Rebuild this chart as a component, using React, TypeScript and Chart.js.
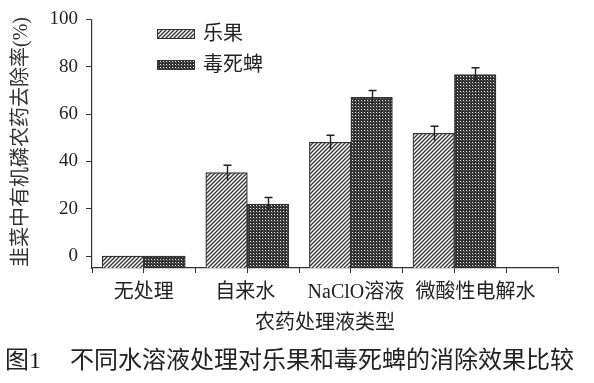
import React, { useEffect, useRef } from 'react';
import { Chart, registerables } from 'chart.js';

Chart.register(...registerables);

// ---- data ----
const categories = ['无处理', '自来水', 'NaClO溶液', '微酸性电解水'];
const categoryPositions = [1, 2, 3, 4];
const seriesNames = ['乐果', '毒死蜱'];
const leguoValues = [0, 35.3, 48.1, 51.9];
const leguoErrors = [0, 3.1, 3.0, 3.0];
const dusiValues = [0, 22.0, 67.1, 76.7];
const dusiErrors = [0, 2.8, 2.9, 2.9];
const yTickValues = [0, 10, 20, 30, 40, 50, 60, 70, 80, 90, 100];
const yLabelStep = 20;
const yTitle = '韭菜中有机磷农药去除率(%)';
const xTitle = '农药处理液类型';
const captionLabel = '图1';
const captionText = '不同水溶液处理对乐果和毒死蜱的消除效果比较';

// label nudges (px) relative to each category's tick, as set in the source figure
const categoryLabelShift = [0, -2, 5, 21];

const FONT = "'Liberation Serif', 'Noto Sans CJK SC', serif";
const INK = '#222';
const LINE = '#333';

function hatchPattern(ctx: CanvasRenderingContext2D) {
  const c = document.createElement('canvas');
  c.width = 4;
  c.height = 4;
  const g = c.getContext('2d')!;
  g.fillStyle = '#fff';
  g.fillRect(0, 0, 4, 4);
  g.strokeStyle = '#383838';
  g.lineWidth = 1.4;
  g.beginPath();
  g.moveTo(-1, 5);
  g.lineTo(5, -1);
  g.moveTo(-1, 1);
  g.lineTo(1, -1);
  g.moveTo(3, 5);
  g.lineTo(5, 3);
  g.stroke();
  return ctx.createPattern(c, 'repeat')!;
}

function dotPattern(ctx: CanvasRenderingContext2D) {
  const c = document.createElement('canvas');
  c.width = 3;
  c.height = 3;
  const g = c.getContext('2d')!;
  g.fillStyle = '#303030';
  g.fillRect(0, 0, 3, 3);
  g.fillStyle = '#eeeeee';
  g.fillRect(1, 1, 1, 1);
  g.fillStyle = '#6a6a6a';
  g.fillRect(2, 2, 1, 1);
  return ctx.createPattern(c, 'repeat')!;
}

export default function App() {
  const ref = useRef<HTMLCanvasElement>(null);

  useEffect(() => {
    const canvas = ref.current!;
    const ctx = canvas.getContext('2d')!;
    const hatch = hatchPattern(ctx);
    const dots = dotPattern(ctx);
    const errorSets = [leguoErrors, dusiErrors];
    const fills = [hatch, dots];

    const annot = {
      id: 'annot',
      afterDatasetsDraw(chart: any) {
        const c = chart.ctx as CanvasRenderingContext2D;
        const ys = chart.scales.y;
        c.save();
        c.strokeStyle = '#222';
        c.lineWidth = 1.4;
        chart.data.datasets.forEach((ds: any, di: number) => {
          const meta = chart.getDatasetMeta(di);
          meta.data.forEach((el: any, i: number) => {
            const err = errorSets[di][i];
            if (!err) return;
            const v = ds.data[i].y;
            const top = ys.getPixelForValue(v + err);
            const bot = ys.getPixelForValue(v - err);
            const x = Math.round(el.x) + 0.5;
            c.beginPath();
            c.moveTo(x, bot);
            c.lineTo(x, top);
            c.moveTo(x - 4, top);
            c.lineTo(x + 4, top);
            c.stroke();
          });
        });
        c.restore();
      },
      afterDraw(chart: any) {
        const c = chart.ctx as CanvasRenderingContext2D;
        const xs = chart.scales.x;
        c.save();
        // category labels
        c.fillStyle = INK;
        c.font = `20px ${FONT}`;
        c.textAlign = 'center';
        c.textBaseline = 'middle';
        categories.forEach((name, i) => {
          const x = xs.getPixelForValue(categoryPositions[i]) + categoryLabelShift[i];
          c.fillText(name, x, xs.top + 25);
        });
        // legend
        const rows = [34, 65];
        seriesNames.forEach((name, i) => {
          const y = rows[i];
          c.fillStyle = fills[i];
          c.fillRect(157, y - 5, 38, 10);
          c.strokeStyle = LINE;
          c.lineWidth = 1;
          c.strokeRect(157.5, y - 4.5, 37, 9);
          c.fillStyle = INK;
          c.font = `20px ${FONT}`;
          c.textAlign = 'left';
          c.textBaseline = 'middle';
          c.fillText(name, 203, y + 1);
        });
        // y title
        c.save();
        c.translate(22, 142);
        c.rotate(-Math.PI / 2);
        c.fillStyle = '#333';
        c.font = `20px ${FONT}`;
        c.textAlign = 'center';
        c.textBaseline = 'middle';
        c.fillText(yTitle, 0, 0);
        c.restore();
        // x title
        c.fillStyle = INK;
        c.font = `20px ${FONT}`;
        c.textAlign = 'center';
        c.textBaseline = 'middle';
        c.fillText(xTitle, 325, 324);
        // caption
        c.font = `24px ${FONT}`;
        c.textAlign = 'left';
        c.fillText(captionLabel, 5, 362);
        c.fillText(captionText, 70, 362);
        c.restore();
      },
    };

    const chart = new Chart(ctx, {
      type: 'bar',
      data: {
        datasets: [
          {
            label: seriesNames[0],
            data: categoryPositions.map((x, i) => ({ x, y: leguoValues[i] })),
            backgroundColor: hatch,
            borderColor: LINE,
            borderWidth: 1.2,
            base: -5,
          } as any,
          {
            label: seriesNames[1],
            data: categoryPositions.map((x, i) => ({ x, y: dusiValues[i] })),
            backgroundColor: dots,
            borderColor: LINE,
            borderWidth: 1.2,
            base: -5,
          } as any,
        ],
      },
      options: {
        animation: false,
        responsive: false,
        devicePixelRatio: 1,
        layout: { padding: { top: 17, right: 36, left: 0, bottom: 0 } },
        datasets: { bar: { barThickness: 41.5 } },
        plugins: {
          legend: { display: false },
          title: { display: false },
          tooltip: { enabled: false },
        },
        scales: {
          x: {
            type: 'linear',
            min: 0.5,
            max: 5,
            offset: false,
            afterFit: (s: any) => {
              s.height = 115;
            },
            ticks: {
              stepSize: 0.5,
              autoSkip: false,
              maxRotation: 0,
              minRotation: 0,
              padding: 8,
              color: INK,
              font: { family: FONT, size: 20 },
              callback: () => '',
            },
            grid: {
              display: true,
              drawOnChartArea: false,
              drawTicks: true,
              tickLength: 5,
              color: LINE,
              lineWidth: 1,
              offset: false,
            },
            border: { display: true, color: LINE, width: 1.2 },
          },
          y: {
            type: 'linear',
            min: -5,
            max: 100,
            afterBuildTicks: (s: any) => {
              s.ticks = yTickValues.map((v) => ({ value: v }));
            },
            afterFit: (s: any) => {
              s.width = 92;
            },
            ticks: {
              padding: 8,
              color: INK,
              font: { family: FONT, size: 19 },
              callback: (v: any) => (Number(v) % yLabelStep === 0 ? String(v) : ''),
            },
            grid: {
              display: true,
              drawOnChartArea: false,
              drawTicks: true,
              tickLength: 6,
              color: LINE,
              lineWidth: 1,
            },
            border: { display: true, color: LINE, width: 1.2 },
          },
        },
      } as any,
      plugins: [annot],
    });
    return () => chart.destroy();
  }, []);

  return (
    <div style={{ position: 'absolute', left: 0, top: 0, width: 594, height: 383, background: '#fff' }}>
      <canvas ref={ref} width={594} height={383} style={{ width: 594, height: 383, display: 'block' }} />
    </div>
  );
}
